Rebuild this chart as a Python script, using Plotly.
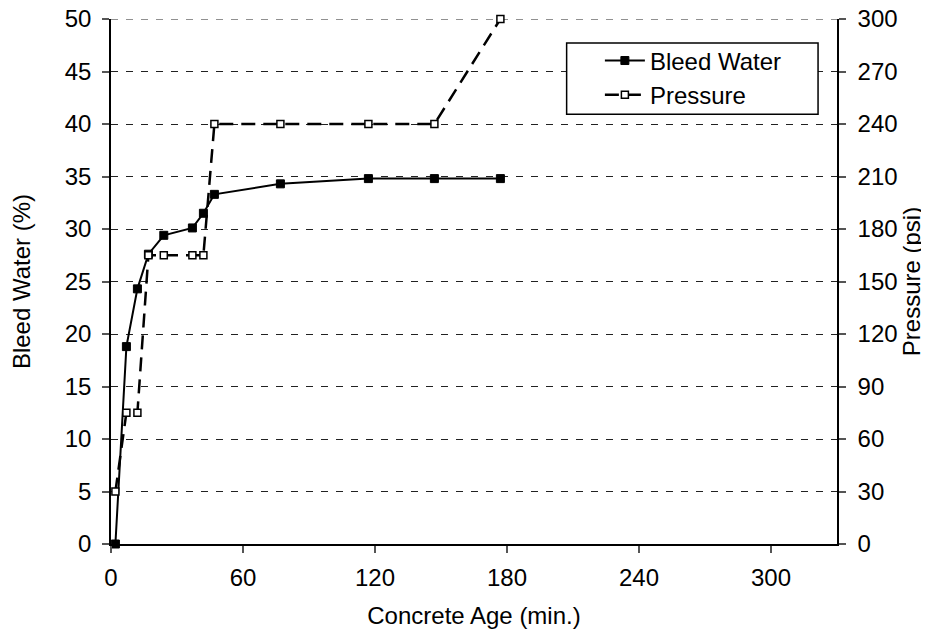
import plotly.graph_objects as go

# Data
bleed_time = [2, 7, 12, 17, 24, 37, 42, 47, 77, 117, 147, 177]
bleed_water = [0, 18.8, 24.3, 27.6, 29.4, 30.1, 31.5, 33.3, 34.3, 34.8, 34.8, 34.8]

pressure_time = [2, 7, 12, 17, 24, 37, 42, 47, 77, 117, 147, 177]
pressure_psi = [30, 75, 75, 165, 165, 165, 165, 240, 240, 240, 240, 300]

x_ticks = [0, 60, 120, 180, 240, 300]
y1_ticks = list(range(0, 51, 5))
y2_ticks = list(range(0, 301, 30))
Y1_MAX = 50
Y2_MAX = 300
X_MAX = 330

FONT = "Liberation Sans, Arial, sans-serif"
FS = 24
TICKC = "#555"
GRIDC = "#222"
GRIDDASH = "7px,8px"

fig = go.Figure()
fig.add_trace(go.Scatter(
    x=bleed_time, y=bleed_water, name="Bleed Water", mode="lines+markers",
    line=dict(color="black", width=2),
    marker=dict(symbol="square", size=8, color="black", line=dict(color="black", width=1)),
    yaxis="y", cliponaxis=False,
))
fig.add_trace(go.Scatter(
    x=pressure_time, y=pressure_psi, name="Pressure", mode="lines+markers",
    line=dict(color="black", width=2.5, dash="14px,8px"),
    marker=dict(symbol="square", size=7, color="white", line=dict(color="black", width=1.5)),
    yaxis="y2", cliponaxis=False,
))

# top gridline (plotly drops gridlines at the very end of the axis)
fig.add_shape(type="line", xref="paper", yref="y", x0=0, x1=1, y0=Y1_MAX, y1=Y1_MAX,
              line=dict(color=GRIDC, width=1, dash=GRIDDASH), layer="below")

# legend frame (Excel-style box, wider than the entries)
fig.add_shape(type="rect", xref="paper", yref="paper",
              x0=0.6276, x1=0.9739, y0=0.8188, y1=0.9542,
              line=dict(color="black", width=1.5), fillcolor="white", layer="above")

fig.update_layout(
    width=921, height=625,
    margin=dict(l=103, r=92, t=11, b=89),
    paper_bgcolor="white", plot_bgcolor="white",
    font=dict(family=FONT, size=FS, color="black"),
    showlegend=True,
    legend=dict(
        x=0.6734, y=0.963, xanchor="left", yanchor="top",
        borderwidth=0, bgcolor="rgba(0,0,0,0)",
        font=dict(family=FONT, size=FS, color="black"),
        itemwidth=40, tracegroupgap=0,
    ),
    xaxis=dict(
        range=[0, X_MAX], tickvals=x_ticks, ticktext=[str(v) for v in x_ticks],
        showgrid=False, zeroline=False,
        showline=True, linecolor="black", linewidth=1.5,
        ticks="outside", ticklen=7, tickcolor=TICKC, tickwidth=1.5,
        ticklabelstandoff=4, ticklabeloverflow="allow",
        title=dict(text="Concrete Age (min.)", font=dict(size=FS), standoff=18),
        tickfont=dict(size=FS), automargin=False,
    ),
    yaxis=dict(
        range=[0, Y1_MAX], tickvals=y1_ticks,
        showgrid=True, gridcolor=GRIDC, griddash=GRIDDASH, gridwidth=1,
        zeroline=False,
        showline=True, linecolor="black", linewidth=1.5,
        ticks="outside", ticklen=7, tickcolor=TICKC, tickwidth=1.5,
        ticklabelstandoff=6, ticklabeloverflow="allow",
        title=dict(text="Bleed Water (%)", font=dict(size=FS), standoff=29),
        tickfont=dict(size=FS), automargin=False,
    ),
    yaxis2=dict(
        range=[0, Y2_MAX], tickvals=y2_ticks, overlaying="y", side="right",
        showgrid=False, zeroline=False,
        showline=True, linecolor="black", linewidth=1.5,
        ticks="outside", ticklen=7, tickcolor=TICKC, tickwidth=1.5,
        ticklabelstandoff=7, ticklabeloverflow="allow",
        title=dict(text="Pressure (psi)", font=dict(size=FS), standoff=0),
        tickfont=dict(size=FS), automargin=False,
    ),
    # inner halves of the crossing tick marks
    yaxis3=dict(
        range=[0, Y1_MAX], tickvals=y1_ticks, overlaying="y", side="left", anchor="x",
        showgrid=False, zeroline=False, showline=False, showticklabels=False,
        ticks="inside", ticklen=7, tickcolor=TICKC, tickwidth=1.5,
    ),
    yaxis4=dict(
        range=[0, Y2_MAX], tickvals=y2_ticks, overlaying="y", side="right", anchor="x",
        showgrid=False, zeroline=False, showline=False, showticklabels=False,
        ticks="inside", ticklen=7, tickcolor=TICKC, tickwidth=1.5,
    ),
)

fig.write_html("out.html")
